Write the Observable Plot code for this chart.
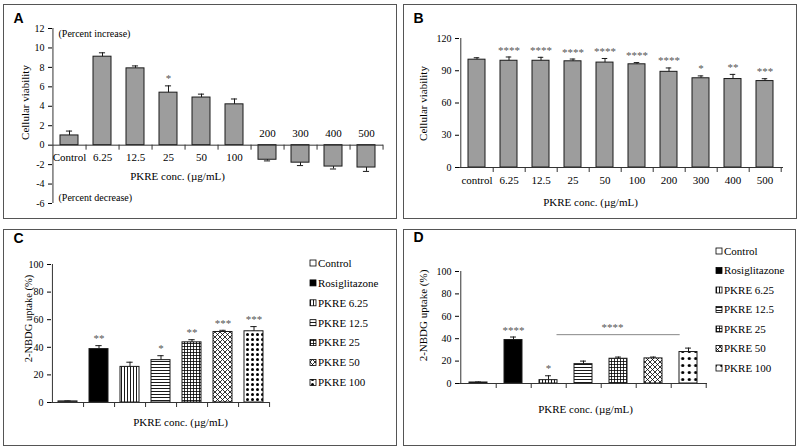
<!DOCTYPE html>
<html>
<head>
<meta charset="utf-8">
<script src="https://cdn.jsdelivr.net/npm/d3@7"></script>
<script src="https://cdn.jsdelivr.net/npm/@observablehq/plot@0.6"></script>
<style>
  body { margin: 0; background: #fff; }
  #fig { position: relative; width: 800px; height: 447px; overflow: hidden; background: #fff; font-family: "Liberation Serif", serif; }
  .panel { position: absolute; border: 1px solid #555; box-sizing: border-box; }
  .chart { position: absolute; }
  .chart svg text { font-family: "Liberation Serif", "Times New Roman", serif; }
  .chart svg text.letter { font-family: "Liberation Sans", Arial, sans-serif; }
</style>
</head>
<body>
<svg width="0" height="0" style="position:absolute">
  <defs>
    <pattern id="pV" width="3" height="3" patternUnits="userSpaceOnUse">
      <rect width="3" height="3" fill="#fff"/>
      <line x1="1.5" y1="0" x2="1.5" y2="3" stroke="#000" stroke-width="0.9"/>
    </pattern>
    <pattern id="pH" width="3" height="3" patternUnits="userSpaceOnUse">
      <rect width="3" height="3" fill="#fff"/>
      <line x1="0" y1="1.5" x2="3" y2="1.5" stroke="#000" stroke-width="0.9"/>
    </pattern>
    <pattern id="pG" width="3" height="3" patternUnits="userSpaceOnUse">
      <rect width="3" height="3" fill="#fff"/>
      <line x1="1.5" y1="0" x2="1.5" y2="3" stroke="#000" stroke-width="0.8"/>
      <line x1="0" y1="1.5" x2="3" y2="1.5" stroke="#000" stroke-width="0.8"/>
    </pattern>
    <pattern id="pX" width="5" height="5" patternUnits="userSpaceOnUse">
      <rect width="5" height="5" fill="#fff"/>
      <path d="M0,0L5,5M5,0L0,5" stroke="#000" stroke-width="0.8"/>
    </pattern>
    <pattern id="pD" width="5" height="5" patternUnits="userSpaceOnUse">
      <rect width="5" height="5" fill="#fff"/>
      <circle cx="2.5" cy="2.5" r="1.5" fill="#000"/>
    </pattern>
    <pattern id="pD2" width="6.5" height="7" patternUnits="userSpaceOnUse">
      <rect width="6.5" height="7" fill="#fff"/>
      <circle cx="3.25" cy="3.5" r="1.6" fill="#000"/>
    </pattern>
  </defs>
</svg>
<div id="fig"></div>
<script>
// ---------------- DATA ----------------
const concA = ["Control", "6.25", "12.5", "25", "50", "100", "200", "300", "400", "500"];
const viabilityA = [1.0, 9.1, 7.9, 5.4, 4.9, 4.2, -1.5, -1.8, -2.2, -2.3];
const errA = [0.45, 0.4, 0.25, 0.7, 0.35, 0.55, 0.12, 0.3, 0.25, 0.4];
const sigA = ["", "", "", "*", "", "", "", "", "", ""];
const yTicksA = [-6, -4, -2, 0, 2, 4, 6, 8, 10, 12];

const concB = ["control", "6.25", "12.5", "25", "50", "100", "200", "300", "400", "500"];
const viabilityB = [100.3, 99.3, 99.3, 98.8, 97.6, 96.0, 89.0, 83.0, 82.3, 80.4];
const errB = [1.8, 3.5, 3.2, 2.1, 3.8, 1.6, 3.6, 2.2, 4.3, 2.2];
const sigB = ["", "****", "****", "****", "****", "****", "****", "*", "**", "***"];
const yTicksB = [0, 30, 60, 90, 120];

const groupsCD = ["Control", "Rosiglitazone", "PKRE 6.25", "PKRE 12.5", "PKRE 25", "PKRE 50", "PKRE 100"];
const uptakeC = [0.8, 38.7, 25.8, 30.7, 43.6, 51.1, 51.6];
const errC = [0.35, 2.5, 3.4, 3.2, 1.9, 1.2, 3.4];
const sigC = ["", "**", "", "*", "**", "***", "***"];
const uptakeD = [0.9, 38.8, 3.0, 17.3, 22.1, 22.4, 28.1];
const errD = [0.45, 2.7, 3.9, 2.7, 1.5, 1.2, 3.5];
const sigD = ["", "****", "*", "", "", "", ""];
const bracketFromD = "PKRE 6.25";
const bracketToD = "PKRE 100";
const bracketMidD = "PKRE 25";
const bracketLevelD = 43.6;
const bracketSigD = "****";
const yTicksCD = [0, 20, 40, 60, 80, 100];

// ---------------- STYLES ----------------
const grayFill = "#9d9d9d";
const fillsC = ["#fff", "#000", "url(#pV)", "url(#pH)", "url(#pG)", "url(#pX)", "url(#pD)"];
const fillsD = ["#fff", "#000", "url(#pV)", "url(#pH)", "url(#pG)", "url(#pX)", "url(#pD2)"];
const serif = "'Liberation Serif', 'Times New Roman', serif";
const sans = "'Liberation Sans', Arial, sans-serif";

const fig = document.getElementById("fig");

function addBox(l, t, w, h) {
  const d = document.createElement("div");
  d.className = "panel";
  Object.assign(d.style, {left: l + "px", top: t + "px", width: w + "px", height: h + "px"});
  fig.appendChild(d);
}

function buildPanel(cfg) {
  const {left, top, width, height, ml, mt, mr, mb, cats, vals, errs, sigs, fills, yDomain, yTicks, padding} = cfg;
  const data = cats.map((c, i) => ({
    cat: c, v: vals[i], e: errs[i], s: sigs[i], f: fills[i],
    tip: vals[i] >= 0 ? vals[i] + errs[i] : vals[i] - errs[i]
  }));
  const step = (width - ml - mr) / cats.length;
  const bw = step * (1 - padding);
  const cap = (bw - 6) / 2;
  const at = (str, px, py, o = {}) => Plot.text([str], {
    text: d => d, frameAnchor: "top-left", dx: px - ml, dy: py - mt,
    fontSize: 11, fill: "#000", textAnchor: "middle", lineAnchor: "middle", ...o
  });
  const marks = [
    Plot.barY(data, {x: "cat", y: "v", fill: d => d.f, stroke: "#1a1a1a", strokeWidth: 1}),
    Plot.ruleX(data, {x: "cat", y1: "v", y2: "tip", stroke: "#1a1a1a"}),
    Plot.tickY(data, {x: "cat", y: "tip", stroke: "#1a1a1a", insetLeft: cap, insetRight: cap}),
    Plot.ruleY([0], {stroke: "#333"}),
    Plot.ruleX(cats, {x: d => d, y1: 0, y2: 0, insetBottom: -5, dx: step / 2, stroke: "#333"}),
    Plot.ruleX([cats[0]], {x: d => d, y1: yDomain[0], y2: yDomain[1], dx: -step / 2, stroke: "#333"}),
    Plot.text(data.filter(d => d.s), {x: "cat", y: "tip", text: "s", dy: -7, fill: "#555", fontSize: 11}),
    ...cfg.extra({data, step, bw, at})
  ];
  const svg = Plot.plot({
    width, height,
    marginLeft: ml, marginTop: mt, marginRight: mr, marginBottom: mb,
    style: `font-family: ${serif}; font-size: 10px; background: none; overflow: visible; color: #000;`,
    x: {type: "band", domain: cats, paddingInner: padding, paddingOuter: padding / 2, axis: null},
    y: {domain: yDomain, ticks: yTicks, tickSize: 4, tickPadding: 4, tickFormat: d => String(d), label: null},
    color: {type: "identity"},
    marks
  });
  const wrap = document.createElement("div");
  wrap.className = "chart";
  Object.assign(wrap.style, {left: left + "px", top: top + "px", width: width + "px", height: height + "px"});
  wrap.appendChild(svg);
  fig.appendChild(wrap);
  return svg;
}

function addLegend(svg, x, y0, rowH, fills) {
  const g = d3.select(svg).append("g")
    .attr("font-family", serif).attr("font-size", 11).attr("text-anchor", "start");
  groupsCD.forEach((name, i) => {
    const y = y0 + i * rowH;
    g.append("rect").attr("x", x).attr("y", y - 3).attr("width", 6).attr("height", 6)
      .attr("fill", fills[i]).attr("stroke", "#000").attr("stroke-width", 0.8);
    g.append("text").attr("x", x + 8).attr("y", y).attr("dy", "0.35em")
      .attr("text-anchor", "start").attr("fill", "#000").text(name);
  });
}

function markLetter(svg, ch) {
  d3.select(svg).selectAll("text").filter(function () { return this.textContent === ch; })
    .attr("class", "letter");
}

// Panel borders
addBox(3, 4, 394, 215);
addBox(403, 4, 394, 215);
addBox(3, 229, 394, 217);
addBox(403, 229, 393, 217);

const letterOpts = {fontFamily: sans, fontWeight: "bold", fontSize: 14, textAnchor: "start"};

// ---------- Panel A ----------
const svgA = buildPanel({
  left: 0, top: 0, width: 400, height: 222, ml: 52, mt: 28, mr: 17, mb: 19,
  cats: concA, vals: viabilityA, errs: errA, sigs: sigA, fills: concA.map(() => grayFill),
  yDomain: [-6, 12], yTicks: yTicksA, padding: 0.46,
  extra: ({data, at}) => [
    Plot.text(data.filter(d => d.v >= 0), {x: "cat", y: 0, text: "cat", dy: 12, fontSize: 11}),
    Plot.text(data.filter(d => d.v < 0), {x: "cat", y: 0, text: "cat", dy: -12, fontSize: 11}),
    at("A", 13, 18, letterOpts),
    at("(Percent increase)", 58, 33, {textAnchor: "start", fontSize: 10}),
    at("(Percent decrease)", 58, 197, {textAnchor: "start", fontSize: 10}),
    at("Cellular viability", 25, 102, {rotate: -90}),
    at("PKRE conc. (µg/mL)", 177, 176)
  ]
});
markLetter(svgA, "A");

// ---------- Panel B ----------
const svgB = buildPanel({
  left: 400, top: 0, width: 400, height: 222, ml: 59, mt: 38, mr: 17, mb: 55,
  cats: concB, vals: viabilityB, errs: errB, sigs: sigB, fills: concB.map(() => grayFill),
  yDomain: [0, 120], yTicks: yTicksB, padding: 0.46,
  extra: ({data, at}) => [
    Plot.text(data, {x: "cat", y: 0, text: "cat", dy: 13, fontSize: 11}),
    at("B", 13, 18, letterOpts),
    at("Cellular viability", 23, 103, {rotate: -90}),
    at("PKRE conc. (µg/mL)", 190, 202)
  ]
});
markLetter(svgB, "B");

// ---------- Panel C ----------
const svgC = buildPanel({
  left: 0, top: 222, width: 400, height: 225, ml: 51, mt: 42, mr: 131, mb: 45,
  cats: groupsCD, vals: uptakeC, errs: errC, sigs: sigC, fills: fillsC,
  yDomain: [0, 100], yTicks: yTicksCD, padding: 0.4,
  extra: ({at}) => [
    at("C", 13, 16, letterOpts),
    at("2-NBDG uptake (%)", 28, 96, {rotate: -90, fontSize: 10.5}),
    at("PKRE conc. (µg/mL)", 180, 200)
  ]
});
markLetter(svgC, "C");
addLegend(svgC, 310, 41, 19.9, fillsC);

// ---------- Panel D ----------
const svgD = buildPanel({
  left: 400, top: 222, width: 400, height: 225, ml: 59, mt: 49, mr: 93, mb: 64,
  cats: groupsCD, vals: uptakeD, errs: errD, sigs: sigD, fills: fillsD,
  yDomain: [0, 100], yTicks: yTicksCD, padding: 0.49,
  extra: ({at}) => [
    Plot.ruleY([bracketLevelD], {x1: () => bracketFromD, x2: () => bracketToD, insetLeft: 17.5, insetRight: 17.3, stroke: "#888"}),
    Plot.text([bracketSigD], {x: () => bracketMidD, y: () => bracketLevelD, text: d => d, dx: -6, dy: -7, fill: "#555", fontSize: 11}),
    at("D", 13, 15, letterOpts),
    at("2-NBDG uptake (%)", 23, 93, {rotate: -90}),
    at("PKRE conc. (µg/mL)", 185, 187)
  ]
});
markLetter(svgD, "D");
addLegend(svgD, 316, 29, 19.5, fillsD);
</script>
</body>
</html>
